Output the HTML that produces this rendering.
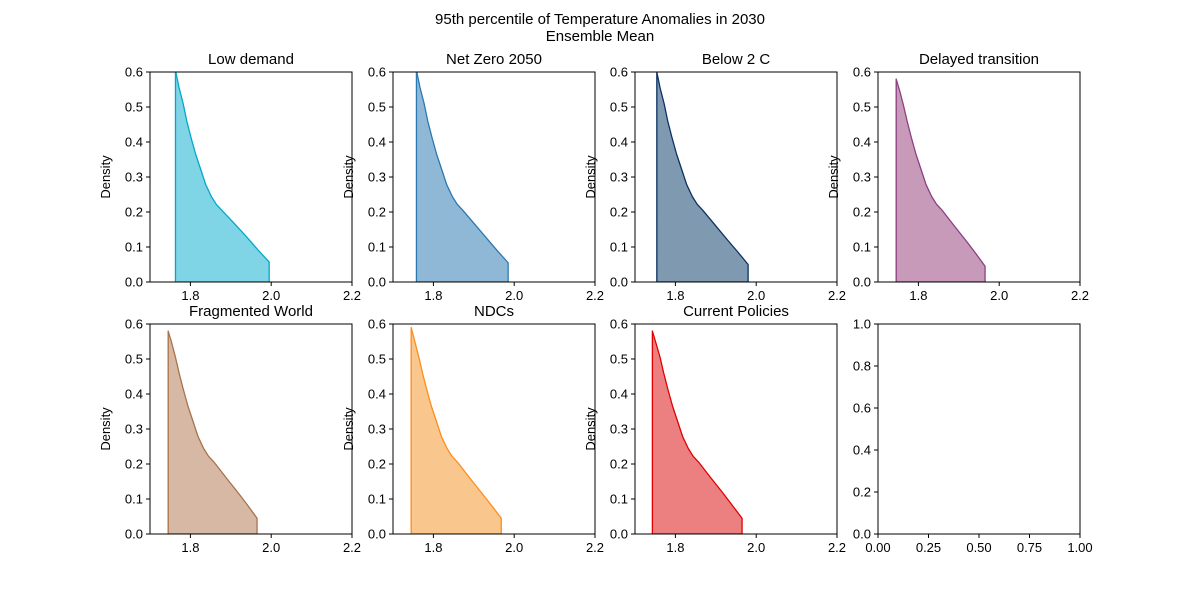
<!DOCTYPE html>
<html><head><meta charset="utf-8"><style>
body{margin:0;background:#fff;}
svg text{font-family:"Liberation Sans","DejaVu Sans",sans-serif;fill:#000;}
</style></head><body>
<svg id="chart" width="1200" height="600" xmlns="http://www.w3.org/2000/svg">
<text x="600" y="24" text-anchor="middle" font-size="15">95th percentile of Temperature Anomalies in 2030</text>
<text x="600" y="41" text-anchor="middle" font-size="15">Ensemble Mean</text>
</svg>
<script>
const titles=["Low demand","Net Zero 2050","Below 2 C","Delayed transition","Fragmented World","NDCs","Current Policies"];
const lineColors=["#00a9c9","#2a78b2","#0b3263","#8b3f80","#a8724a","#ff8c1a","#e00000"];
const fillColors=["#7fd4e6","#8fb8d6","#7f99b1","#c79aba","#d6b8a5","#f9c78d","#ec8080"];
const xTicks=[1.8,2.0,2.2];
const yTicks=[0,0.1,0.2,0.3,0.4,0.5,0.6];
const xEmptyTicks=[0,0.25,0.5,0.75,1.0];
const yEmptyTicks=[0,0.2,0.4,0.6,0.8,1.0];
const xs0=[1.763,1.772,1.782,1.791,1.801,1.813,1.826,1.838,1.852,1.864,1.877,1.908,1.939,1.967,1.995];
const ys0=[0.605,0.555,0.51,0.46,0.415,0.365,0.32,0.278,0.244,0.222,0.206,0.168,0.129,0.092,0.057];
const xs1=[1.758,1.767,1.777,1.786,1.796,1.808,1.821,1.833,1.847,1.859,1.872,1.903,1.934,1.960,1.985];
const ys1=[0.605,0.555,0.51,0.46,0.415,0.365,0.32,0.278,0.244,0.222,0.206,0.164,0.122,0.087,0.055];
const xs2=[1.754,1.762,1.772,1.781,1.791,1.803,1.816,1.828,1.842,1.854,1.867,1.898,1.929,1.955,1.98];
const ys2=[0.60,0.555,0.51,0.46,0.415,0.365,0.32,0.278,0.244,0.222,0.206,0.163,0.12,0.085,0.05];
const xs3=[1.745,1.754,1.763,1.772,1.782,1.794,1.807,1.819,1.833,1.845,1.858,1.889,1.920,1.943,1.965];
const ys3=[0.58,0.545,0.505,0.46,0.415,0.365,0.32,0.278,0.244,0.222,0.206,0.16,0.115,0.08,0.045];
const xs4=[1.745,1.754,1.763,1.772,1.782,1.794,1.807,1.819,1.833,1.845,1.858,1.889,1.920,1.943,1.965];
const ys4=[0.58,0.545,0.505,0.46,0.415,0.365,0.32,0.278,0.244,0.222,0.206,0.16,0.115,0.08,0.045];
const xs5=[1.745,1.754,1.764,1.773,1.783,1.795,1.808,1.820,1.834,1.846,1.859,1.890,1.921,1.945,1.968];
const ys5=[0.59,0.55,0.505,0.46,0.415,0.365,0.32,0.278,0.244,0.222,0.206,0.16,0.115,0.08,0.045];
const xs6=[1.743,1.752,1.762,1.771,1.781,1.793,1.806,1.818,1.832,1.844,1.857,1.888,1.919,1.942,1.965];
const ys6=[0.58,0.545,0.505,0.46,0.415,0.365,0.32,0.278,0.244,0.222,0.206,0.16,0.115,0.08,0.045];
const XS=[xs0,xs1,xs2,xs3,xs4,xs5,xs6], YS=[ys0,ys1,ys2,ys3,ys4,ys5,ys6];
const svg=document.getElementById('chart');
const NS="http://www.w3.org/2000/svg";
function mk(tag,attrs,parent){const e=document.createElementNS(NS,tag);for(const k in attrs)e.setAttribute(k,attrs[k]);(parent||svg).appendChild(e);return e;}
const colL=[150,393,635,878], rowT=[72,324], W=202, H=210;
function drawAxes(g,L,T,xmin,xmax,ymin,ymax,xt,yt,xfmt,yfmt){
  const sx=v=>L+(v-xmin)/(xmax-xmin)*W, sy=v=>T+H-(v-ymin)/(ymax-ymin)*H;
  xt.forEach(v=>{const t=mk('line',{x1:sx(v),x2:sx(v),y1:T+H,y2:T+H+4,stroke:'#000','stroke-width':1},g);
    
    const tx=mk('text',{x:sx(v),y:T+H+18,'text-anchor':'middle','font-size':13},g);tx.textContent=xfmt(v);
    });
  yt.forEach(v=>{const t=mk('line',{x1:L-4,x2:L,y1:sy(v),y2:sy(v),stroke:'#000','stroke-width':1},g);
    
    const tx=mk('text',{x:L-7,y:sy(v)+4.5,'text-anchor':'end','font-size':13},g);tx.textContent=yfmt(v);
    });
  return {sx,sy};
}
for(let i=0;i<8;i++){
  const L=colL[i%4], T=rowT[Math.floor(i/4)];
  const g=mk('g',{});
  
  
  if(i<7){
    const {sx,sy}=drawAxes(g,L,T,1.7,2.2,0,0.6,xTicks,yTicks,v=>v.toFixed(1),v=>v.toFixed(1));
    const cid='clip'+i;
    const cp=mk('clipPath',{id:cid},g);mk('rect',{x:L,y:T,width:W,height:H},cp);
    const xs=XS[i], ys=YS[i];
    let d='M'+sx(xs[0])+','+sy(0);
    xs.forEach((x,j)=>{d+=' L'+sx(x)+','+sy(ys[j]);});
    d+=' L'+sx(xs[xs.length-1])+','+sy(0)+' Z';
    const area=mk('path',{d:d,fill:fillColors[i],stroke:lineColors[i],'stroke-width':1.3,'stroke-linejoin':'round','clip-path':'url(#'+cid+')'},g);
    
    
    const tt=mk('text',{x:L+W/2,y:T-8,'text-anchor':'middle','font-size':15},g);tt.textContent=titles[i];
    
    const yl=mk('text',{x:0,y:0,'text-anchor':'middle','font-size':13,transform:'translate('+(L-40)+','+(T+H/2)+') rotate(-90)'},g);yl.textContent='Density';
    
  } else {
    drawAxes(g,L,T,0,1,0,1,xEmptyTicks,yEmptyTicks,v=>v.toFixed(2),v=>v.toFixed(1));
  }
  const fr=mk('rect',{x:L,y:T,width:W,height:H,fill:'none',stroke:'#000','stroke-width':1},g);
  
}
</script>
</body></html>
